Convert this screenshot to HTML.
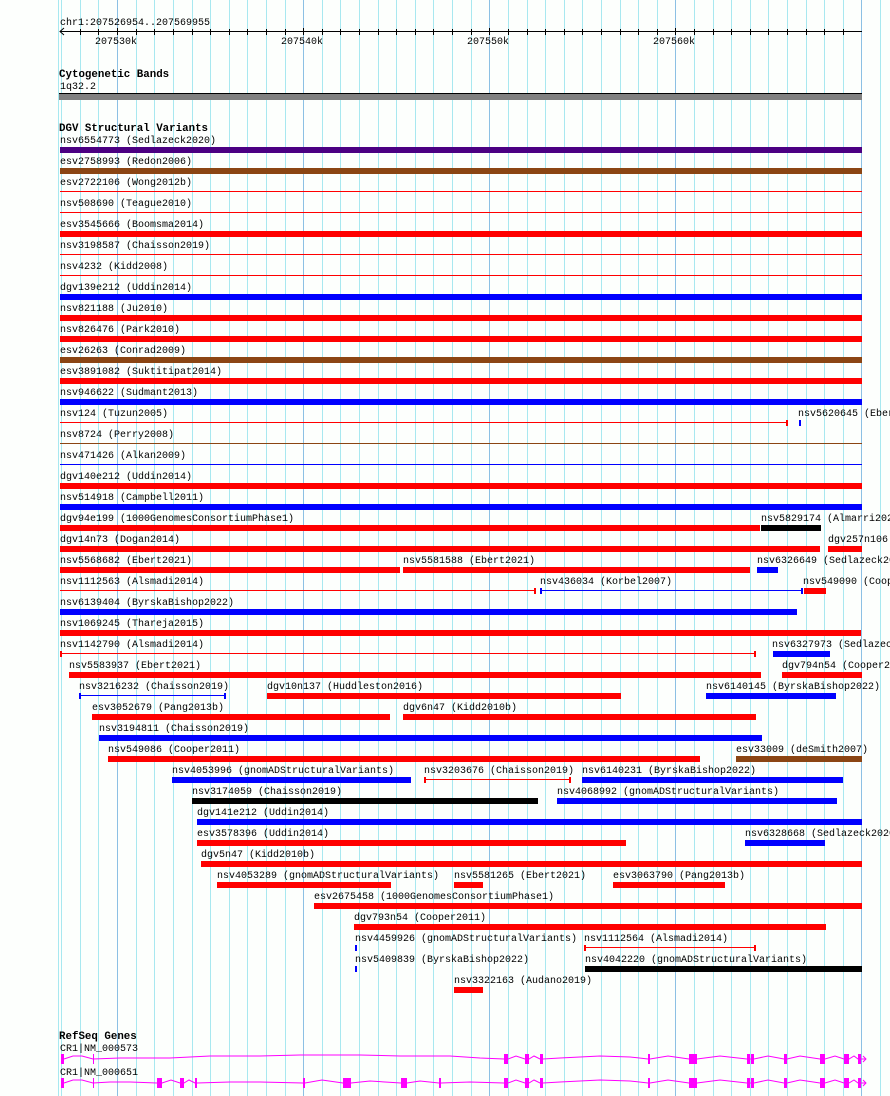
<!DOCTYPE html>
<html><head><meta charset="utf-8"><style>
html,body{margin:0;padding:0;background:#fff;}
svg{display:block;}
text{font-family:"Liberation Mono","DejaVu Sans Mono",monospace;font-size:10px;fill:#000;}
.b{font-weight:bold;font-size:10.8px;}
</style></head><body>
<svg width="890" height="1096" xmlns="http://www.w3.org/2000/svg">
<rect width="890" height="1096" fill="#fdfffd"/>
<g stroke="#a8e8f0" stroke-width="1">
<line x1="58.5" y1="0" x2="58.5" y2="1096"/>
<line x1="61.5" y1="0" x2="61.5" y2="1096"/>
<line x1="80.5" y1="0" x2="80.5" y2="1096"/>
<line x1="98.5" y1="0" x2="98.5" y2="1096"/>
<line x1="136.5" y1="0" x2="136.5" y2="1096"/>
<line x1="154.5" y1="0" x2="154.5" y2="1096"/>
<line x1="173.5" y1="0" x2="173.5" y2="1096"/>
<line x1="192.5" y1="0" x2="192.5" y2="1096"/>
<line x1="210.5" y1="0" x2="210.5" y2="1096"/>
<line x1="229.5" y1="0" x2="229.5" y2="1096"/>
<line x1="247.5" y1="0" x2="247.5" y2="1096"/>
<line x1="266.5" y1="0" x2="266.5" y2="1096"/>
<line x1="285.5" y1="0" x2="285.5" y2="1096"/>
<line x1="322.5" y1="0" x2="322.5" y2="1096"/>
<line x1="340.5" y1="0" x2="340.5" y2="1096"/>
<line x1="359.5" y1="0" x2="359.5" y2="1096"/>
<line x1="378.5" y1="0" x2="378.5" y2="1096"/>
<line x1="396.5" y1="0" x2="396.5" y2="1096"/>
<line x1="415.5" y1="0" x2="415.5" y2="1096"/>
<line x1="433.5" y1="0" x2="433.5" y2="1096"/>
<line x1="452.5" y1="0" x2="452.5" y2="1096"/>
<line x1="471.5" y1="0" x2="471.5" y2="1096"/>
<line x1="508.5" y1="0" x2="508.5" y2="1096"/>
<line x1="527.5" y1="0" x2="527.5" y2="1096"/>
<line x1="545.5" y1="0" x2="545.5" y2="1096"/>
<line x1="564.5" y1="0" x2="564.5" y2="1096"/>
<line x1="582.5" y1="0" x2="582.5" y2="1096"/>
<line x1="601.5" y1="0" x2="601.5" y2="1096"/>
<line x1="620.5" y1="0" x2="620.5" y2="1096"/>
<line x1="638.5" y1="0" x2="638.5" y2="1096"/>
<line x1="657.5" y1="0" x2="657.5" y2="1096"/>
<line x1="694.5" y1="0" x2="694.5" y2="1096"/>
<line x1="713.5" y1="0" x2="713.5" y2="1096"/>
<line x1="731.5" y1="0" x2="731.5" y2="1096"/>
<line x1="750.5" y1="0" x2="750.5" y2="1096"/>
<line x1="768.5" y1="0" x2="768.5" y2="1096"/>
<line x1="787.5" y1="0" x2="787.5" y2="1096"/>
<line x1="806.5" y1="0" x2="806.5" y2="1096"/>
<line x1="824.5" y1="0" x2="824.5" y2="1096"/>
<line x1="843.5" y1="0" x2="843.5" y2="1096"/>
<line x1="880.5" y1="0" x2="880.5" y2="1096"/>
</g>
<g stroke="#8cc0e4" stroke-width="1">
<line x1="117.5" y1="0" x2="117.5" y2="1096"/>
<line x1="303.5" y1="0" x2="303.5" y2="1096"/>
<line x1="489.5" y1="0" x2="489.5" y2="1096"/>
<line x1="675.5" y1="0" x2="675.5" y2="1096"/>
<line x1="861.5" y1="0" x2="861.5" y2="1096"/>
</g>

<text x="60" y="25">chr1:207526954..207569955</text>
<line x1="60" y1="31.5" x2="862" y2="31.5" stroke="#000"/>
<polyline points="64,28 60,31.5 64,35" fill="none" stroke="#000"/>
<g stroke="#000">
<line x1="80.5" y1="29" x2="80.5" y2="35"/><line x1="98.5" y1="29" x2="98.5" y2="35"/><line x1="117.5" y1="28" x2="117.5" y2="35"/><line x1="136.5" y1="29" x2="136.5" y2="35"/><line x1="154.5" y1="29" x2="154.5" y2="35"/><line x1="173.5" y1="29" x2="173.5" y2="35"/><line x1="192.5" y1="29" x2="192.5" y2="35"/><line x1="210.5" y1="29" x2="210.5" y2="35"/><line x1="229.5" y1="29" x2="229.5" y2="35"/><line x1="247.5" y1="29" x2="247.5" y2="35"/><line x1="266.5" y1="29" x2="266.5" y2="35"/><line x1="285.5" y1="29" x2="285.5" y2="35"/><line x1="303.5" y1="28" x2="303.5" y2="35"/><line x1="322.5" y1="29" x2="322.5" y2="35"/><line x1="340.5" y1="29" x2="340.5" y2="35"/><line x1="359.5" y1="29" x2="359.5" y2="35"/><line x1="378.5" y1="29" x2="378.5" y2="35"/><line x1="396.5" y1="29" x2="396.5" y2="35"/><line x1="415.5" y1="29" x2="415.5" y2="35"/><line x1="433.5" y1="29" x2="433.5" y2="35"/><line x1="452.5" y1="29" x2="452.5" y2="35"/><line x1="471.5" y1="29" x2="471.5" y2="35"/><line x1="489.5" y1="28" x2="489.5" y2="35"/><line x1="508.5" y1="29" x2="508.5" y2="35"/><line x1="527.5" y1="29" x2="527.5" y2="35"/><line x1="545.5" y1="29" x2="545.5" y2="35"/><line x1="564.5" y1="29" x2="564.5" y2="35"/><line x1="582.5" y1="29" x2="582.5" y2="35"/><line x1="601.5" y1="29" x2="601.5" y2="35"/><line x1="620.5" y1="29" x2="620.5" y2="35"/><line x1="638.5" y1="29" x2="638.5" y2="35"/><line x1="657.5" y1="29" x2="657.5" y2="35"/><line x1="675.5" y1="28" x2="675.5" y2="35"/><line x1="694.5" y1="29" x2="694.5" y2="35"/><line x1="713.5" y1="29" x2="713.5" y2="35"/><line x1="731.5" y1="29" x2="731.5" y2="35"/><line x1="750.5" y1="29" x2="750.5" y2="35"/><line x1="768.5" y1="29" x2="768.5" y2="35"/><line x1="787.5" y1="29" x2="787.5" y2="35"/><line x1="806.5" y1="29" x2="806.5" y2="35"/><line x1="824.5" y1="29" x2="824.5" y2="35"/><line x1="843.5" y1="29" x2="843.5" y2="35"/>
</g>
<text x="95" y="44">207530k</text>
<text x="281" y="44">207540k</text>
<text x="467" y="44">207550k</text>
<text x="653" y="44">207560k</text>

<text class="b" x="59" y="77">Cytogenetic Bands</text>
<text x="60" y="89">1q32.2</text>
<rect x="59" y="93" width="803" height="7" fill="#808080"/>
<line x1="59" y1="93.5" x2="862" y2="93.5" stroke="#000"/>

<text class="b" x="59" y="131">DGV Structural Variants</text>

<g>
<text x="60" y="143">nsv6554773 (Sedlazeck2020)</text><rect x="60" y="147" width="802" height="6" fill="#4b0082"/>
<text x="60" y="164">esv2758993 (Redon2006)</text><rect x="60" y="168" width="802" height="6" fill="#8b4513"/>
<text x="60" y="185">esv2722106 (Wong2012b)</text><rect x="60" y="191" width="802" height="1" fill="#f00"/>
<text x="60" y="206">nsv508690 (Teague2010)</text><rect x="60" y="212" width="802" height="1" fill="#f00"/>
<text x="60" y="227">esv3545666 (Boomsma2014)</text><rect x="60" y="231" width="802" height="6" fill="#f00"/>
<text x="60" y="248">nsv3198587 (Chaisson2019)</text><rect x="60" y="254" width="802" height="1" fill="#f00"/>
<text x="60" y="269">nsv4232 (Kidd2008)</text><rect x="60" y="275" width="802" height="1" fill="#f00"/>
<text x="60" y="290">dgv139e212 (Uddin2014)</text><rect x="60" y="294" width="802" height="6" fill="#00f"/>
<text x="60" y="311">nsv821188 (Ju2010)</text><rect x="60" y="315" width="802" height="6" fill="#f00"/>
<text x="60" y="332">nsv826476 (Park2010)</text><rect x="60" y="336" width="802" height="6" fill="#f00"/>
<text x="60" y="353">esv26263 (Conrad2009)</text><rect x="60" y="357" width="802" height="6" fill="#8b4513"/>
<text x="60" y="374">esv3891082 (Suktitipat2014)</text><rect x="60" y="378" width="802" height="6" fill="#f00"/>
<text x="60" y="395">nsv946622 (Sudmant2013)</text><rect x="60" y="399" width="802" height="6" fill="#00f"/>
<text x="60" y="416">nsv124 (Tuzun2005)</text><rect x="60" y="422" width="728" height="1" fill="#f00"/><rect x="786" y="420" width="2" height="6" fill="#f00"/>
<text x="798" y="416">nsv5620645 (Ebert2021)</text><rect x="799" y="420" width="2" height="6" fill="#00f"/>
<text x="60" y="437">nsv8724 (Perry2008)</text><rect x="60" y="443" width="802" height="1" fill="#8b4513"/>
<text x="60" y="458">nsv471426 (Alkan2009)</text><rect x="60" y="464" width="802" height="1" fill="#00f"/>
<text x="60" y="479">dgv140e212 (Uddin2014)</text><rect x="60" y="483" width="802" height="6" fill="#f00"/>
<text x="60" y="500">nsv514918 (Campbell2011)</text><rect x="60" y="504" width="802" height="6" fill="#00f"/>
<text x="60" y="521">dgv94e199 (1000GenomesConsortiumPhase1)</text><rect x="60" y="525" width="700" height="6" fill="#f00"/>
<text x="761" y="521">nsv5829174 (Almarri2020)</text><rect x="761" y="525" width="60" height="6" fill="#000"/>
<text x="60" y="542">dgv14n73 (Dogan2014)</text><rect x="60" y="546" width="760" height="6" fill="#f00"/>
<text x="828" y="542">dgv257n106</text><rect x="828" y="546" width="34" height="6" fill="#f00"/>
<text x="60" y="563">nsv5568682 (Ebert2021)</text><rect x="60" y="567" width="340" height="6" fill="#f00"/>
<text x="403" y="563">nsv5581588 (Ebert2021)</text><rect x="403" y="567" width="347" height="6" fill="#f00"/>
<text x="757" y="563">nsv6326649 (Sedlazeck2020)</text><rect x="757" y="567" width="21" height="6" fill="#00f"/>
<text x="60" y="584">nsv1112563 (Alsmadi2014)</text><rect x="60" y="590" width="475" height="1" fill="#f00"/><rect x="534" y="588" width="2" height="6" fill="#f00"/>
<text x="540" y="584">nsv436034 (Korbel2007)</text><rect x="540" y="590" width="262" height="1" fill="#00f"/><rect x="540" y="588" width="2" height="6" fill="#00f"/><rect x="801" y="588" width="2" height="6" fill="#00f"/>
<text x="803" y="584">nsv549090 (Cooper2011)</text><rect x="804" y="588" width="22" height="6" fill="#f00"/>
<text x="60" y="605">nsv6139404 (ByrskaBishop2022)</text><rect x="60" y="609" width="737" height="6" fill="#00f"/>
<text x="60" y="626">nsv1069245 (Thareja2015)</text><rect x="60" y="630" width="801" height="6" fill="#f00"/>
<text x="60" y="647">nsv1142790 (Alsmadi2014)</text><rect x="60" y="653" width="695" height="1" fill="#f00"/><rect x="60" y="651" width="2" height="6" fill="#f00"/><rect x="754" y="651" width="2" height="6" fill="#f00"/>
<text x="772" y="647">nsv6327973 (Sedlazeck2020)</text><rect x="773" y="651" width="57" height="6" fill="#00f"/>
<text x="69" y="668">nsv5583937 (Ebert2021)</text><rect x="69" y="672" width="692" height="6" fill="#f00"/>
<text x="782" y="668">dgv794n54 (Cooper2011)</text><rect x="782" y="672" width="80" height="6" fill="#f00"/>
<text x="79" y="689">nsv3216232 (Chaisson2019)</text><rect x="80" y="695" width="145" height="1" fill="#00f"/><rect x="79" y="693" width="2" height="6" fill="#00f"/><rect x="224" y="693" width="2" height="6" fill="#00f"/>
<text x="267" y="689">dgv10n137 (Huddleston2016)</text><rect x="267" y="693" width="354" height="6" fill="#f00"/>
<text x="706" y="689">nsv6140145 (ByrskaBishop2022)</text><rect x="706" y="693" width="130" height="6" fill="#00f"/>
<text x="92" y="710">esv3052679 (Pang2013b)</text><rect x="92" y="714" width="298" height="6" fill="#f00"/>
<text x="403" y="710">dgv6n47 (Kidd2010b)</text><rect x="403" y="714" width="353" height="6" fill="#f00"/>
<text x="99" y="731">nsv3194811 (Chaisson2019)</text><rect x="99" y="735" width="663" height="6" fill="#00f"/>
<text x="108" y="752">nsv549086 (Cooper2011)</text><rect x="108" y="756" width="592" height="6" fill="#f00"/>
<text x="736" y="752">esv33009 (deSmith2007)</text><rect x="736" y="756" width="126" height="6" fill="#8b4513"/>
<text x="172" y="773">nsv4053996 (gnomADStructuralVariants)</text><rect x="172" y="777" width="239" height="6" fill="#00f"/>
<text x="424" y="773">nsv3203676 (Chaisson2019)</text><rect x="424" y="779" width="146" height="1" fill="#f00"/><rect x="424" y="777" width="2" height="6" fill="#f00"/><rect x="569" y="777" width="2" height="6" fill="#f00"/>
<text x="582" y="773">nsv6140231 (ByrskaBishop2022)</text><rect x="582" y="777" width="261" height="6" fill="#00f"/>
<text x="192" y="794">nsv3174059 (Chaisson2019)</text><rect x="192" y="798" width="346" height="6" fill="#000"/>
<text x="557" y="794">nsv4068992 (gnomADStructuralVariants)</text><rect x="557" y="798" width="280" height="6" fill="#00f"/>
<text x="197" y="815">dgv141e212 (Uddin2014)</text><rect x="197" y="819" width="665" height="6" fill="#00f"/>
<text x="197" y="836">esv3578396 (Uddin2014)</text><rect x="197" y="840" width="429" height="6" fill="#f00"/>
<text x="745" y="836">nsv6328668 (Sedlazeck2020)</text><rect x="745" y="840" width="80" height="6" fill="#00f"/>
<text x="201" y="857">dgv5n47 (Kidd2010b)</text><rect x="201" y="861" width="661" height="6" fill="#f00"/>
<text x="217" y="878">nsv4053289 (gnomADStructuralVariants)</text><rect x="217" y="882" width="174" height="6" fill="#f00"/>
<text x="454" y="878">nsv5581265 (Ebert2021)</text><rect x="454" y="882" width="29" height="6" fill="#f00"/>
<text x="613" y="878">esv3063790 (Pang2013b)</text><rect x="613" y="882" width="112" height="6" fill="#f00"/>
<text x="314" y="899">esv2675458 (1000GenomesConsortiumPhase1)</text><rect x="314" y="903" width="548" height="6" fill="#f00"/>
<text x="354" y="920">dgv793n54 (Cooper2011)</text><rect x="354" y="924" width="472" height="6" fill="#f00"/>
<text x="355" y="941">nsv4459926 (gnomADStructuralVariants)</text><rect x="355" y="945" width="2" height="6" fill="#00f"/>
<text x="584" y="941">nsv1112564 (Alsmadi2014)</text><rect x="584" y="947" width="171" height="1" fill="#f00"/><rect x="584" y="945" width="2" height="6" fill="#f00"/><rect x="754" y="945" width="2" height="6" fill="#f00"/>
<text x="355" y="962">nsv5409839 (ByrskaBishop2022)</text><rect x="355" y="966" width="2" height="6" fill="#00f"/>
<text x="585" y="962">nsv4042220 (gnomADStructuralVariants)</text><rect x="585" y="966" width="277" height="6" fill="#000"/>
<text x="454" y="983">nsv3322163 (Audano2019)</text><rect x="454" y="987" width="29" height="6" fill="#f00"/>
</g>

<text class="b" x="59" y="1039">RefSeq Genes</text>
<text x="60" y="1051">CR1|NM_000573</text>
<text x="60" y="1075">CR1|NM_000651</text>
<g fill="#f0f" stroke="none">
<rect x="61" y="1054" width="3" height="10"/><rect x="93" y="1054" width="1" height="10"/>
<rect x="504" y="1054" width="4" height="10"/><rect x="525" y="1054" width="4" height="10"/><rect x="540" y="1054" width="3" height="10"/>
<rect x="648" y="1054" width="2" height="10"/><rect x="689" y="1054" width="8" height="10"/><rect x="747" y="1054" width="3" height="10"/><rect x="751" y="1054" width="3" height="10"/>
<rect x="784" y="1054" width="3" height="10"/><rect x="820" y="1054" width="5" height="10"/><rect x="844" y="1054" width="5" height="10"/><rect x="858" y="1054" width="3" height="10"/>
<rect x="61" y="1078" width="3" height="10"/><rect x="93" y="1078" width="1" height="10"/>
<rect x="157" y="1078" width="5" height="10"/><rect x="180" y="1078" width="4" height="10"/><rect x="195" y="1078" width="2" height="10"/>
<rect x="303" y="1078" width="2" height="10"/><rect x="343" y="1078" width="8" height="10"/><rect x="401" y="1078" width="6" height="10"/><rect x="439" y="1078" width="2" height="10"/>
<rect x="504" y="1078" width="4" height="10"/><rect x="525" y="1078" width="4" height="10"/><rect x="540" y="1078" width="3" height="10"/>
<rect x="648" y="1078" width="2" height="10"/><rect x="689" y="1078" width="8" height="10"/><rect x="747" y="1078" width="3" height="10"/><rect x="751" y="1078" width="3" height="10"/>
<rect x="784" y="1078" width="3" height="10"/><rect x="820" y="1078" width="5" height="10"/><rect x="844" y="1078" width="5" height="10"/><rect x="858" y="1078" width="3" height="10"/>
</g>
<g fill="none" stroke="#f0f" stroke-width="1">
<polyline points="64,1059 73,1056 82,1056 93,1059 120,1058 170,1058 210,1056 260,1056 300,1055 360,1055 400,1056 450,1056 480,1058 504,1059 508,1059 516,1056 525,1059 529,1059 534,1056 540,1059 543,1059 560,1058 600,1056 630,1057 648,1059 650,1059 668,1056 689,1059 697,1059 720,1056 747,1059 754,1059 768,1056 784,1059 787,1059 800,1056 820,1059 825,1059 835,1056 844,1059 849,1059 854,1056 858,1059 866,1059"/>
<polyline points="863,1056 866,1059 863,1062"/>
<polyline points="64,1083 73,1080 82,1080 93,1083 110,1082 130,1082 157,1083 162,1083 171,1080 180,1083 184,1083 189,1080 195,1083 197,1083 230,1082 260,1082 303,1083 305,1083 322,1080 343,1083 351,1083 370,1081 401,1083 407,1083 420,1081 439,1083 441,1083 470,1082 504,1083 508,1083 516,1080 525,1083 529,1083 534,1080 540,1083 543,1083 560,1082 600,1080 630,1081 648,1083 650,1083 668,1080 689,1083 697,1083 720,1080 747,1083 754,1083 768,1080 784,1083 787,1083 800,1080 820,1083 825,1083 835,1080 844,1083 849,1083 854,1080 858,1083 866,1083"/>
<polyline points="863,1080 866,1083 863,1086"/>
</g>
</svg>
</body></html>
